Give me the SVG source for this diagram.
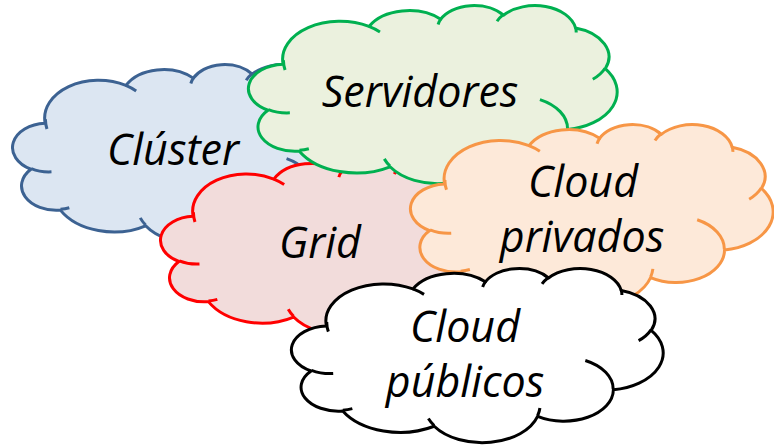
<svg xmlns="http://www.w3.org/2000/svg" xmlns:xlink="http://www.w3.org/1999/xlink" width="774" height="447" viewBox="0 0 774 447">
<style>
.cl{stroke-width:3;stroke-linejoin:round}
.ci{stroke-width:3;fill:none;stroke-linecap:butt}
.t{font-family:"Open Sans","Liberation Sans",sans-serif;font-style:italic;font-size:43px;fill:#000;text-anchor:middle}
.blue{fill:#DCE6F2;stroke:#3C6292}
.green{fill:#EBF1DE;stroke:#00B050}
.red{fill:#F2DCDB;stroke:#FF0000}
.orange{fill:#FDE9D9;stroke:#F79646}
.black{fill:#FFFFFF;stroke:#000000}
</style>
<defs>
<path id="co" vector-effect="non-scaling-stroke" d="M3900,14370 A6753,9190 0 0 1 14006,5203 A5333,7267 0 0 1 22457,3432 A4365,5945 0 0 1 29834,2481 A4857,6595 0 0 1 38320,5576 A5333,7273 0 0 1 41820,15460 A6775,9220 0 0 1 37406,30202 A5785,7867 0 0 1 28558,36813 A6752,9215 0 0 1 16484,39268 A7720,10543 0 0 1 5808,35473 A4360,5918 0 0 1 2116,25553 A4345,5945 0 0 1 3900,14370 Z"/>
<path id="cn" vector-effect="non-scaling-stroke" fill="none" d="M4693,26177 A4345,5945 0 0 1 2159,25380 M6928,34899 A4360,5918 0 0 1 5819,35281 M16478,39090 A6752,9215 0 0 1 15808,37345 M28827,34751 A6752,9215 0 0 1 28560,36660 M34129,22954 A5785,7867 0 0 1 37381,30090 M41798,15354 A5333,7273 0 0 1 40350,18030 M38324,5426 A4857,6595 0 0 1 38400,6690 M29078,3952 A4857,6595 0 0 1 29820,2340 M22141,4720 A4365,5945 0 0 1 22500,3330 M14000,5192 A6753,9190 0 0 1 15299,6540 M4127,15789 A6753,9190 0 0 1 3947,13389"/>
</defs>
<g id="connectors"></g>
<g id="cluster">
<g transform="translate(14,64) scale(0.007986,0.00412)">
<use xlink:href="#co" class="cl blue"/><use xlink:href="#cn" class="ci blue"/>
</g>
<text class="t" x="173" y="165">Clúster</text>
</g>
<g id="grid">
<g transform="translate(162,158) scale(0.007986,0.00405)">
<use xlink:href="#co" class="cl red"/><use xlink:href="#cn" class="ci red"/>
</g>
<text class="t" x="320" y="258">Grid</text>
</g>
<g id="servidores">
<g transform="translate(250,5) scale(0.008495,0.00412)">
<use xlink:href="#co" class="cl green"/><use xlink:href="#cn" class="ci green"/>
</g>
<text class="t" x="420" y="107">Servidores</text>
</g>
<g id="cloud-privados">
<g transform="translate(412,124) scale(0.008356,0.00417)">
<use xlink:href="#co" class="cl orange"/><use xlink:href="#cn" class="ci orange"/>
</g>
<text class="t" x="583" y="197">Cloud</text>
<text class="t" x="582" y="252">privados</text>
</g>
<g id="cloud-publicos">
<g transform="translate(293,268) scale(0.008565,0.00403)">
<use xlink:href="#co" class="cl black"/><use xlink:href="#cn" class="ci black"/>
</g>
<text class="t" x="465" y="342">Cloud</text>
<text class="t" x="465" y="397">públicos</text>
</g>
</svg>
